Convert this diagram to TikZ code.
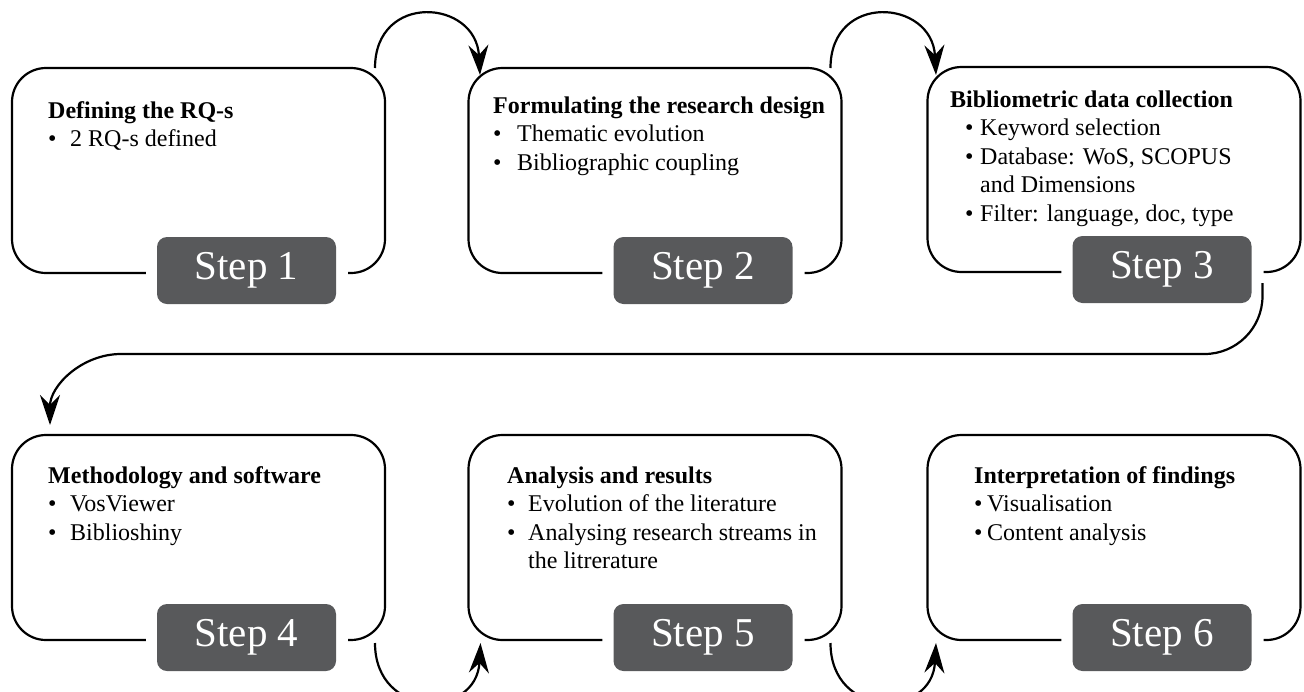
\documentclass[tikz,border=0pt]{standalone}
\usepackage{fontspec}
\setmainfont{Liberation Serif}
\usetikzlibrary{arrows.meta,calc}
\definecolor{stepgray}{HTML}{58595B}
\newcommand\bitem[3]{\hspace*{#1}\makebox[#2][l]{\textbullet}#3}
\tikzset{
  frame/.style={draw=none, minimum width=373pt, minimum height=205pt, inner sep=0pt, outer sep=0pt, anchor=north west},
  outline/.style={line width=2.2pt, rounded corners=34pt},
  steplabel/.style={fill=stepgray, text=white, rounded corners=10pt, minimum width=179pt, minimum height=67pt, inner sep=0pt, font=\fontsize{41}{42}\selectfont},
  conn/.style={line width=2.2pt, -{Stealth[length=30pt,width=20pt,inset=10pt]}},
  txt/.style={anchor=base west, inner sep=0pt, font=\fontsize{24}{28.5}\selectfont}
}
\begin{document}
\begin{tikzpicture}[x=1pt,y=1pt]
\useasboundingbox (0,0) rectangle (1304,-691);
% frames
\node[frame] (b1) at (12,-68) {};
\node[frame] (b2) at (468.5,-68) {};
\node[frame] (b3) at (927.5,-67) {};
\node[frame] (b4) at (12,-435) {};
\node[frame] (b5) at (468.5,-435) {};
\node[frame] (b6) at (927.5,-435) {};
% step labels
\foreach \i in {1,...,6}{
  \node[steplabel] (s\i) at ($(b\i.south)+(48,2.5)$) {Step \i};
  \draw[outline] ($(s\i.west |- b\i.south)+(-11,0)$) -- (b\i.south west) -- (b\i.north west)
     -- (b\i.north east) -- (b\i.south east) -- ($(s\i.east |- b\i.south)+(12,0)$);
}
% texts
\node[txt] (t1) at (48,-118) {\parbox[t]{330pt}{\textbf{Defining the RQ-s}\\
  \bitem{0pt}{22pt}{2 RQ-s defined}}};
\node[txt] (t2) at (493,-113) {\parbox[t]{340pt}{\textbf{Formulating the research design}\\
  \bitem{0pt}{24pt}{Thematic evolution}\\
  \bitem{0pt}{24pt}{Bibliographic coupling}}};
\node[txt] (t3) at (950,-107) {\parbox[t]{340pt}{\textbf{Bibliometric data collection}\\
  \bitem{15pt}{15pt}{Keyword selection}\\
  \bitem{15pt}{15pt}{Database: WoS, SCOPUS}\\
  \hspace*{30pt}and Dimensions\\
  \bitem{15pt}{15pt}{Filter: language, doc, type}}};
\node[txt] (t4) at (48,-483) {\parbox[t]{330pt}{\textbf{Methodology and software}\\
  \bitem{0pt}{22pt}{VosViewer}\\
  \bitem{0pt}{22pt}{Biblioshiny}}};
\node[txt] (t5) at (507,-483) {\parbox[t]{330pt}{\textbf{Analysis and results}\\
  \bitem{0pt}{21pt}{Evolution of the literature}\\
  \bitem{0pt}{21pt}{Analysing research streams in}\\
  \hspace*{21pt}the litrerature}};
\node[txt] (t6) at (974,-483) {\parbox[t]{320pt}{\textbf{Interpretation of findings}\\
  \bitem{0pt}{13pt}{Visualisation}\\
  \bitem{0pt}{13pt}{Content analysis}}};
% connector end points
\coordinate (a12) at ($(b1.north east)+(-10,0)$);
\coordinate (e12) at ($(b2.north west)+(11.5,-7)$);
\coordinate (a23) at ($(b2.north east)+(-11,0)$);
\coordinate (e23) at ($(b3.north west)+(8.5,-8)$);
\coordinate (a34) at ($(b3.south east)+(-38,-11)$);
\coordinate (e34) at ($(b4.north west)+(38,10)$);
\coordinate (a45) at ($(b4.south east)+(-10,-3)$);
\coordinate (e45) at ($(b5.south west)+(12,-3)$);
\coordinate (a56) at ($(b5.south east)+(-11,-3)$);
\coordinate (e56) at ($(b6.south west)+(8.5,-3)$);
% connectors
\draw[conn] (a12) .. controls +(0,76) and +(-4,76) .. (e12);
\draw[conn] (a23) .. controls +(0,76) and +(-4,76) .. (e23);
\draw[conn] (a34) -- ++(0,-13) arc[start angle=0,end angle=-90,radius=58]
   -- ($(e34)+(71,71)$) arc[start angle=90,end angle=180,radius=71];
\draw[conn] (a45) .. controls +(0,-76) and +(-4,-76) .. (e45);
\draw[conn] (a56) .. controls +(0,-76) and +(-4,-76) .. (e56);
\end{tikzpicture}
\end{document}
